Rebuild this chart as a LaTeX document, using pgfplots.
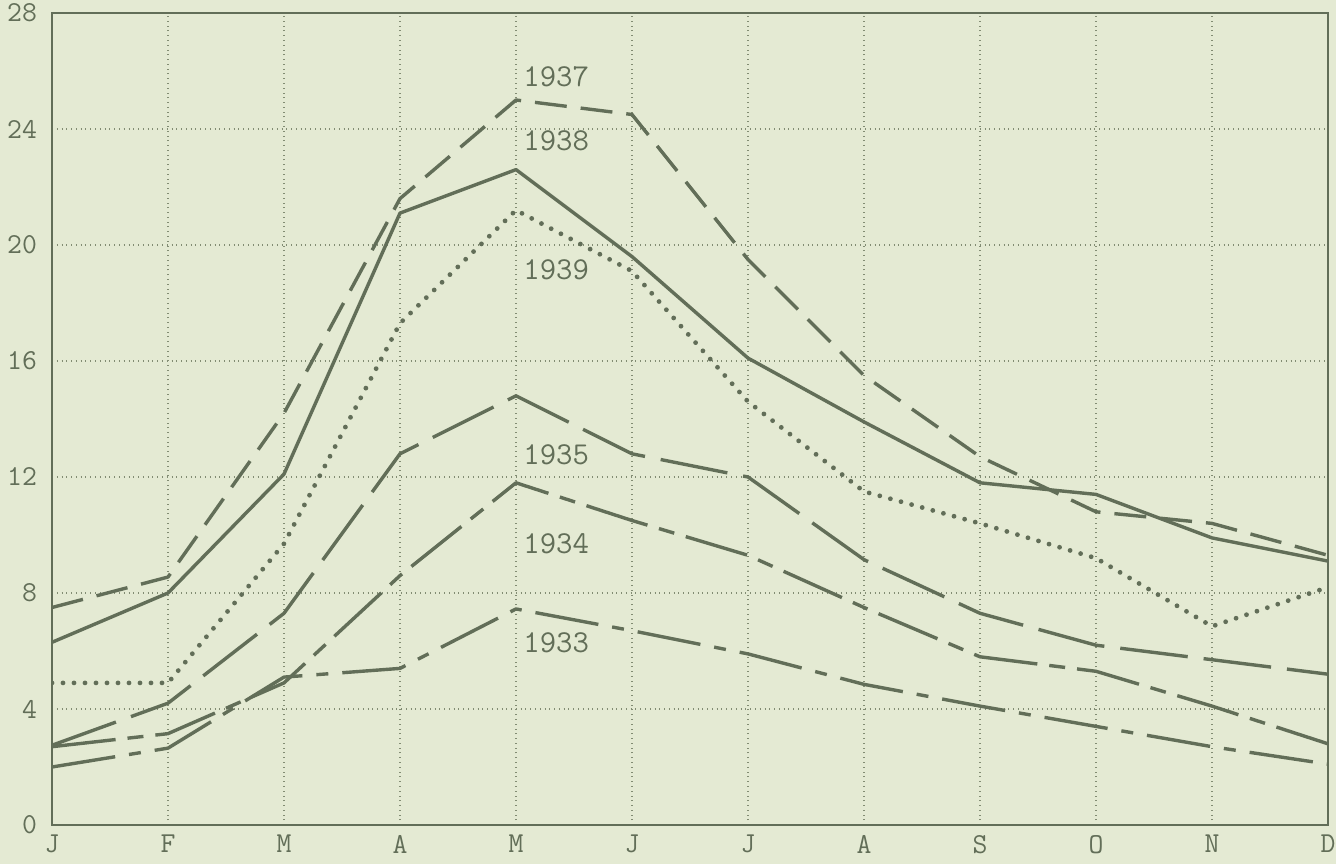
\documentclass[border=0pt]{standalone}
\usepackage{fontspec}
\usepackage{pgfplots}
\usepackage{pgfplotstable}
\pgfplotsset{compat=1.18}
\definecolor{bg}{RGB}{228,234,211}
\definecolor{ink}{RGB}{98,110,88}
\definecolor{gridc}{RGB}{130,140,115}
\pgfplotstableread{
m y37 y38 y39 yLD yDD y33
0 7.5 6.3 4.9 2.75 2.7 2.0
1 8.55 8.0 4.9 4.2 3.15 2.65
2 14.2 12.1 9.7 7.3 4.9 5.1
3 21.6 21.1 17.3 12.8 8.6 5.4
4 25.0 22.6 21.2 14.8 11.8 7.45
5 24.5 19.6 19.1 12.8 10.5 6.7
6 19.5 16.1 14.6 12.0 9.3 5.9
7 15.5 13.9 11.5 9.15 7.5 4.85
8 12.7 11.8 10.4 7.3 5.8 4.1
9 10.8 11.4 9.2 6.2 5.3 3.4
10 10.4 9.9 6.85 5.7 4.1 2.7
11 9.3 9.1 8.2 5.2 2.8 2.1
}\data
\begin{document}
\begin{tikzpicture}
\useasboundingbox (-26bp,-19.5bp) rectangle (642bp,412.5bp);
\fill[bg] (-26bp,-19.5bp) rectangle (642bp,412.5bp);
\begin{axis}[
 at={(0,0)}, anchor=south west,
 scale only axis, width=638bp, height=406bp,
 xmin=0, xmax=11, ymin=0, ymax=28,
 xtick={0,...,11}, xticklabels={J,F,M,A,M,J,J,A,S,O,N,D},
 ytick={0,4,...,28},
 grid=major, major grid style={gridc, dotted, line width=0.8bp},
 axis line style={ink, line width=1.4bp},
 tick style={draw=none},
 ticklabel style={font=\ttfamily\fontsize{14.5}{16}\selectfont, text=ink},
 /pgf/number format/assume math mode=true,
 yticklabel style={anchor=east, xshift=-4bp},
 xticklabel style={anchor=north, yshift=-1.5bp},
 every axis plot/.append style={ink, line width=1.7bp, line join=round},
]
\addplot[dash pattern=on 16bp off 7bp] table[x=m,y=y37]{\data};
\addplot[solid] table[x=m,y=y38]{\data};
\addplot[line width=2.4bp, line cap=round, dash pattern=on 0bp off 5.5bp] table[x=m,y=y39]{\data};
\addplot[dash pattern=on 34bp off 8bp] table[x=m,y=yLD]{\data};
\addplot[dash pattern=on 32bp off 6bp on 8bp off 6bp] table[x=m,y=yDD]{\data};
\addplot[dash pattern=on 32bp off 7bp on 6bp off 7bp] table[x=m,y=y33]{\data};
\begin{scope}[every node/.style={anchor=west, inner sep=0pt, text=ink, font=\ttfamily\fontsize{16}{18}\selectfont}]
\node at (axis cs:4.06,25.8) {1937};
\node at (axis cs:4.06,23.6) {1938};
\node at (axis cs:4.06,19.15) {1939};
\node at (axis cs:4.06,12.75) {1935};
\node at (axis cs:4.06,9.7) {1934};
\node at (axis cs:4.06,6.3) {1933};
\end{scope}
\end{axis}
\end{tikzpicture}
\end{document}
